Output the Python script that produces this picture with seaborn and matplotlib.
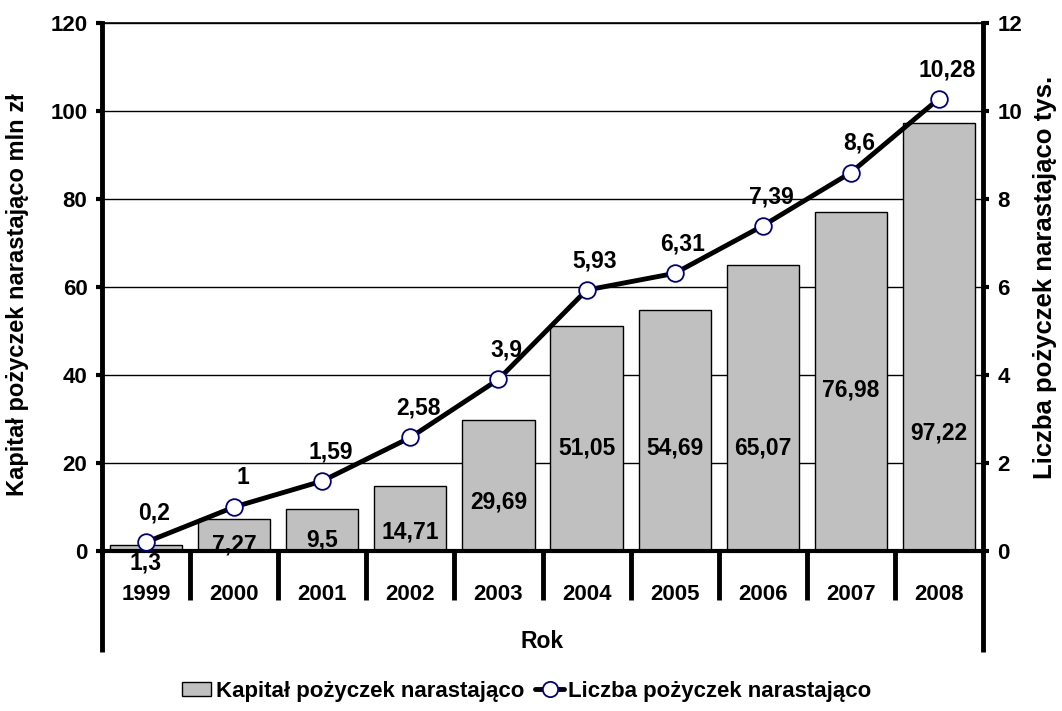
import matplotlib
matplotlib.use('Agg')
import matplotlib.pyplot as plt
import seaborn as sns
import pandas as pd
from matplotlib.lines import Line2D
from matplotlib.patches import Patch

years = ['1999', '2000', '2001', '2002', '2003', '2004', '2005', '2006', '2007', '2008']
capital = [1.3, 7.27, 9.5, 14.71, 29.69, 51.05, 54.69, 65.07, 76.98, 97.22]
count = [0.2, 1, 1.59, 2.58, 3.9, 5.93, 6.31, 7.39, 8.6, 10.28]

# vertical placement of the bar value labels (left-axis units), as in the original
bar_label_y = [-2.7, 1.4, 2.5, 4.3, 11.1, 23.4, 23.4, 23.4, 36.6, 26.8]

sns.set_style('white')
plt.rcParams['font.family'] = ['Liberation Sans', 'DejaVu Sans']
plt.rcParams['font.weight'] = 'bold'
for k in ['text.color', 'axes.labelcolor', 'xtick.color', 'ytick.color']:
    plt.rcParams[k] = 'black'

df = pd.DataFrame({'Rok': years, 'Kapital': capital, 'Liczba': count,
                   'pos': range(len(years))})

fig = plt.figure(figsize=(10.62, 7.11), dpi=100)
ax = fig.add_axes([102/1062, 1 - 551/711, (983-102)/1062, (551-23)/711])

sns.barplot(data=df, x='Rok', y='Kapital', color='#C0C0C0', saturation=1,
            edgecolor='black', linewidth=1.0, width=0.82, ax=ax, zorder=2)
ax.set_xlim(-0.5, len(years) - 0.5)
ax.set_ylim(0, 120)
ax.set_yticks(range(0, 121, 20))
ax.set_axisbelow(True)
ax.yaxis.grid(True, color='black', linewidth=1.0)
ax.xaxis.grid(False)
ax.set_xlabel('')
ax.set_ylabel('')

for s in ['left', 'right']:
    ax.spines[s].set_linewidth(3.5)
    ax.spines[s].set_color('black')
ax.spines['bottom'].set_linewidth(3)
ax.spines['top'].set_linewidth(1.2)
ax.spines['top'].set_color('black')
ax.spines['bottom'].set_color('black')

ax.tick_params(axis='y', left=True, direction='out', length=4.5, width=3,
               labelsize=16, pad=6)
ax.tick_params(axis='x', bottom=False, labelsize=16, pad=20)
for t in ax.get_xticklabels() + ax.get_yticklabels():
    t.set_fontweight('bold')

# bar value labels
for i, (v, ly) in enumerate(zip(capital, bar_label_y)):
    ax.text(i, ly, f'{v:g}'.replace('.', ','), ha='center', va='center',
            fontsize=16.5, fontweight='bold', zorder=5, clip_on=False)

# category table lines below the axis
for i in range(1, len(years)):
    ax.axvline(i - 0.5, ymin=-(600-551)/528, ymax=0, color='black', linewidth=3.5,
               clip_on=False, solid_capstyle='butt')
for xe in [-0.5, len(years) - 0.5]:
    ax.axvline(xe, ymin=-(652-551)/528, ymax=0, color='black', linewidth=3.5,
               clip_on=False, solid_capstyle='butt')
ax.text(0.5, -(641-551)/528, 'Rok', transform=ax.transAxes, ha='center', va='center',
        fontsize=16.5, fontweight='bold')

# secondary axis with line
ax2 = ax.twinx()
sns.lineplot(data=df, x='pos', y='Liczba', ax=ax2, color='black', linewidth=3.5,
             marker='o', markersize=12, markerfacecolor='white',
             markeredgecolor='#000080', markeredgewidth=1.3, zorder=4)
ax2.set_ylim(0, 12)
ax2.set_yticks(range(0, 13, 2))
ax2.set_xlim(-0.5, len(years) - 0.5)
ax2.set_ylabel('')
ax2.tick_params(axis='y', right=True, direction='out', length=4.5, width=3,
                labelsize=16, pad=6)
for t in ax2.get_yticklabels():
    t.set_fontweight('bold')
for s in ax2.spines.values():
    s.set_visible(False)
ax2.grid(False)

for i, v in enumerate(count):
    ax2.annotate(f'{v:g}'.replace('.', ','), (i, v), xytext=(6, 21),
                 textcoords='offset points', ha='center', va='center',
                 fontsize=16.5, fontweight='bold')

fig.text(18/1062, 1 - 295/711, 'Kapitał pożyczek narastająco mln zł', rotation=90,
         ha='center', va='center', fontsize=17, fontweight='bold')
fig.text(1045/1062, 1 - 277/711, 'Liczba pożyczek narastająco tys.', rotation=90,
         ha='center', va='center', fontsize=18.5, fontweight='bold')

handles = [Patch(facecolor='#C0C0C0', edgecolor='black', linewidth=1.0),
           Line2D([0], [0], color='black', linewidth=3.5, marker='o', markersize=11,
                  markerfacecolor='white', markeredgecolor='#000080', markeredgewidth=1.3)]
fig.legend(handles, ['Kapitał pożyczek narastająco', 'Liczba pożyczek narastająco'],
           loc='center', bbox_to_anchor=(527/1062, 1 - 691/711), ncol=2, frameon=False,
           prop={'size': 16, 'weight': 'bold'},
           handlelength=1.3, handleheight=0.6, handletextpad=0.2, columnspacing=0.5)

fig.savefig('out.png', dpi=100)
